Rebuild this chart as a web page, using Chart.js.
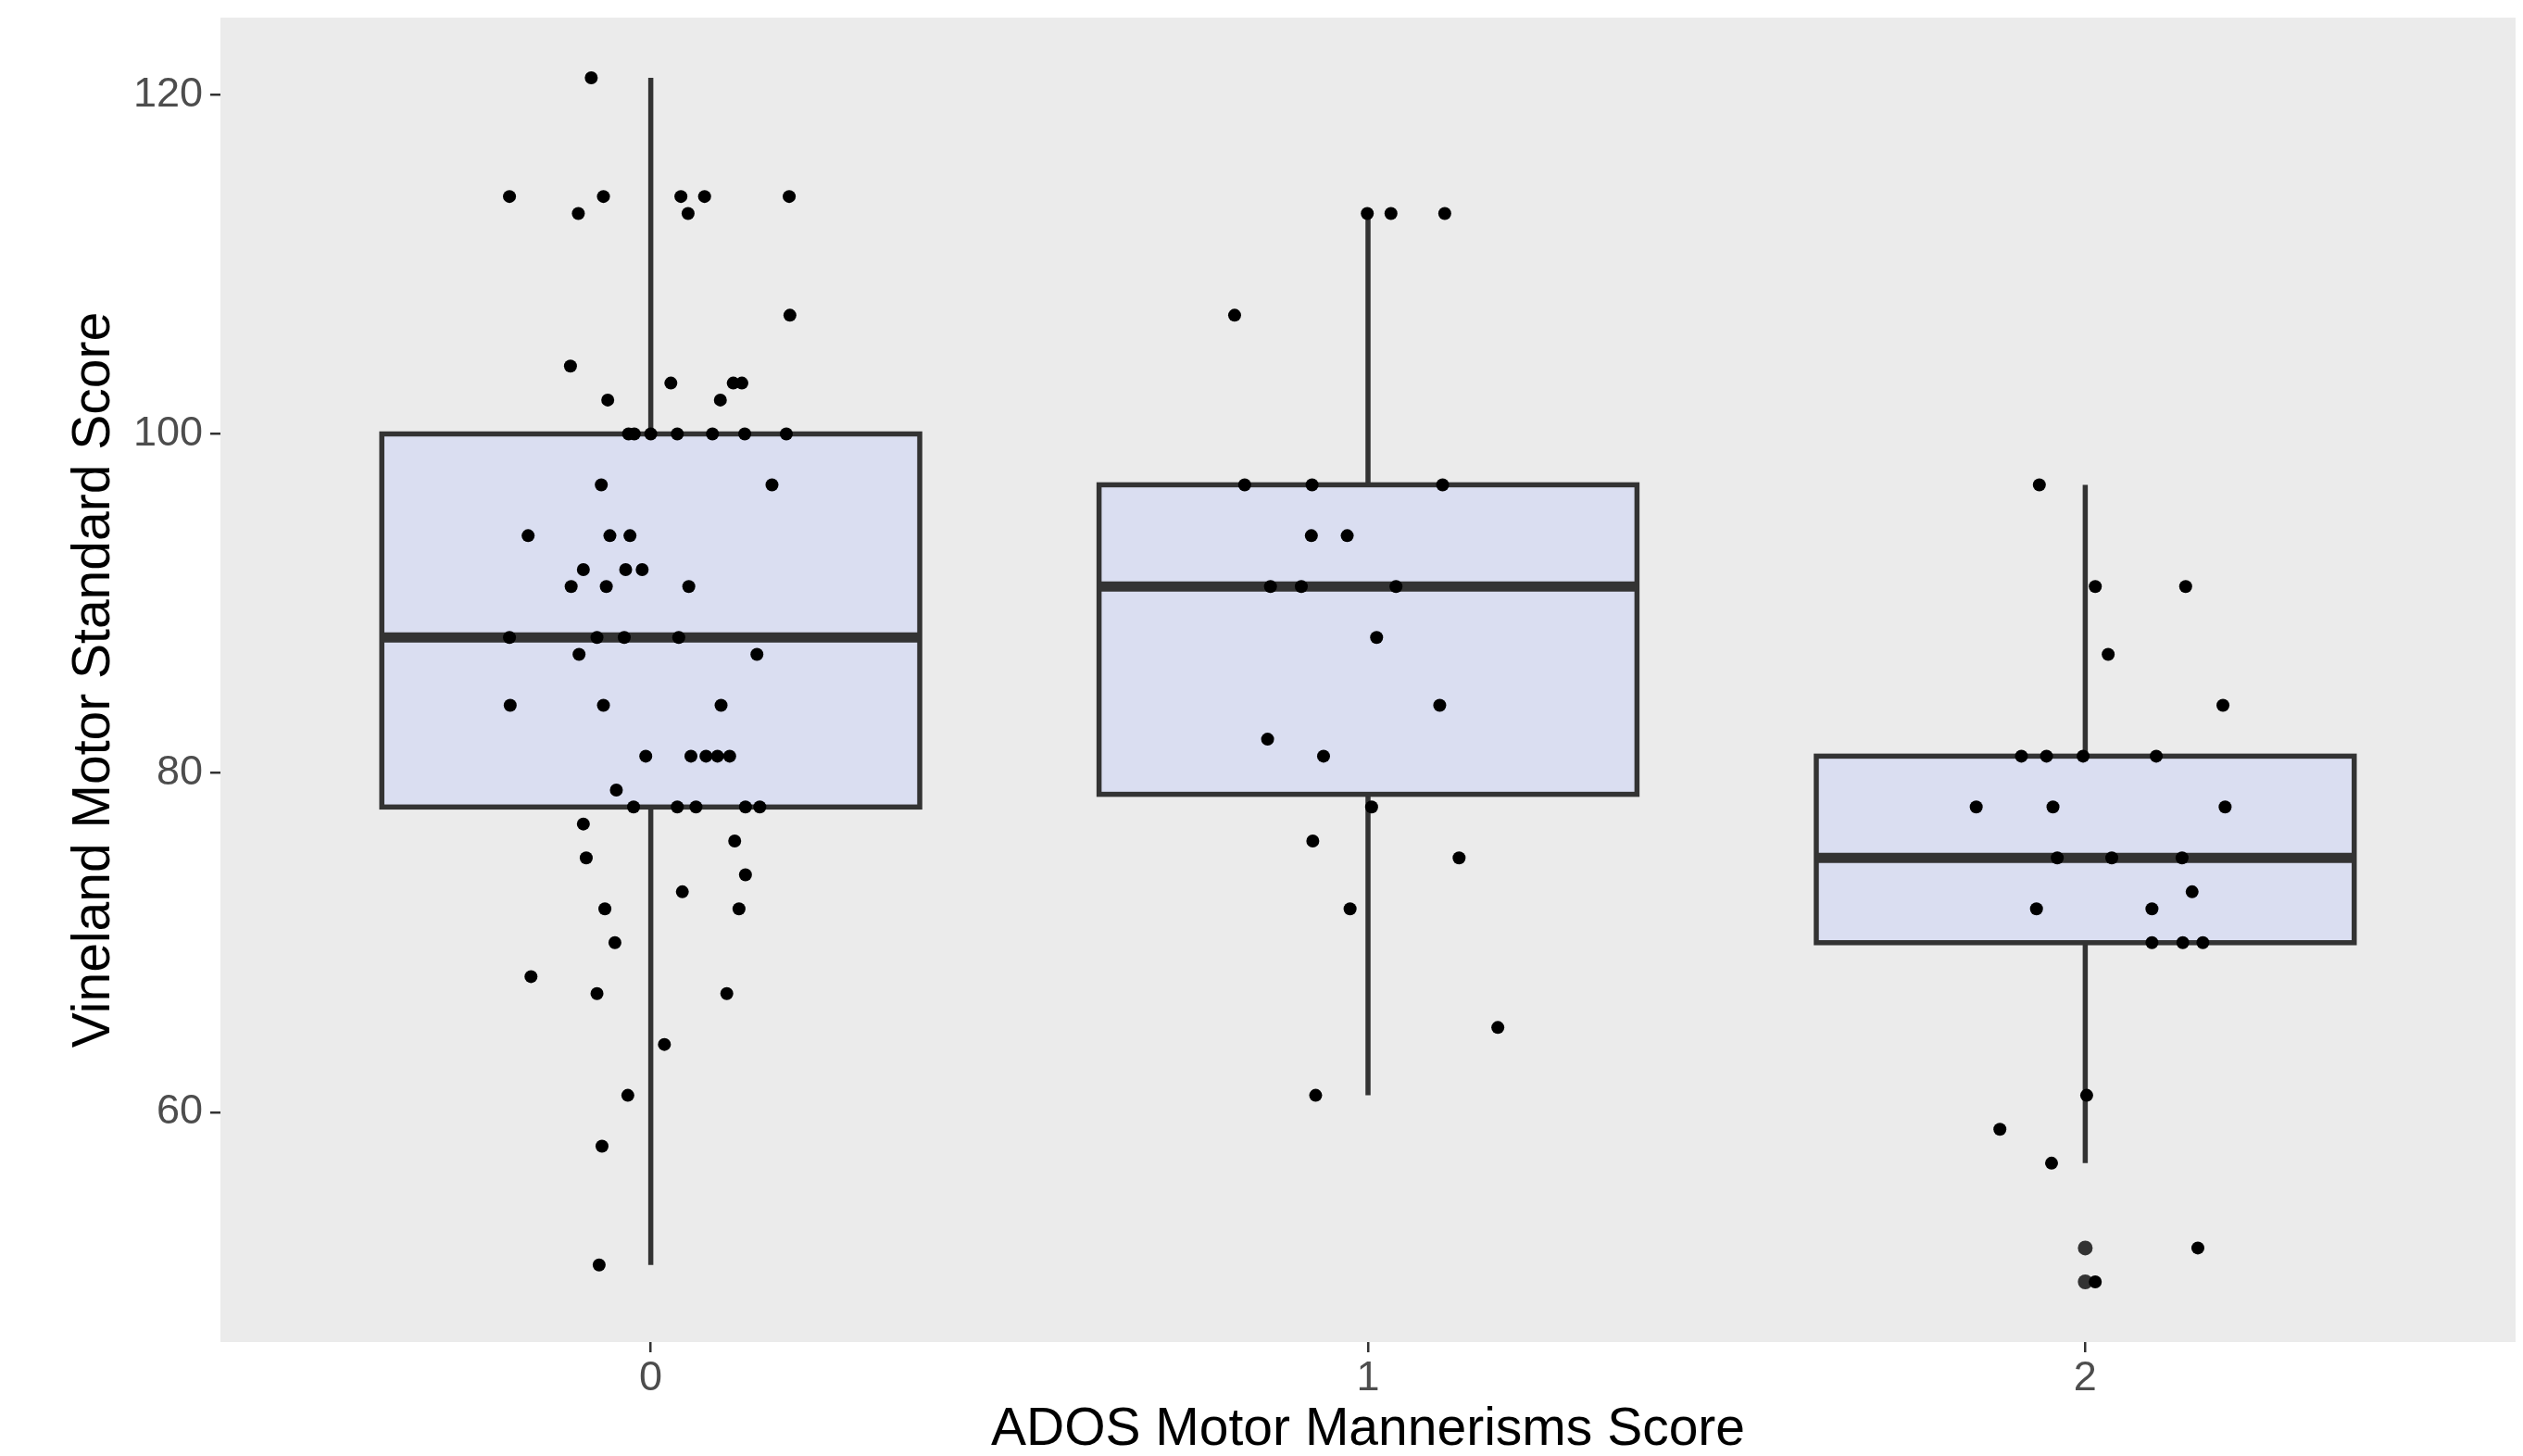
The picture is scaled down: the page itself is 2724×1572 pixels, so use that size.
<!DOCTYPE html>
<html>
<head>
<meta charset="utf-8">
<script src="https://cdn.jsdelivr.net/npm/chart.js@4.4.1/dist/chart.umd.min.js"></script>
<style>
  body { margin: 0; background: #ffffff; }
  canvas { display: block; }
</style>
</head>
<body>
<canvas id="chart" width="2724" height="1572"></canvas>
<script>
// x categories (ADOS score) and y tick labels
var categories = [0, 1, 2];
var yTicks = [60, 80, 100, 120];

// box stats per category
var boxMin    = [51, 61, 57];
var boxQ1     = [78, 78.75, 70];
var boxMedian = [88, 91, 75];
var boxQ3     = [100, 97, 81];
var boxMax    = [121, 113, 97];

// outliers (drawn at the category itself)
var outlierCat = [2, 2];
var outlierY   = [52, 50];

// jittered points, score 0
var score0 = [121, 114, 114, 113, 114, 114, 113, 114, 107, 104, 102, 103, 103, 103, 102,
  100, 100, 100, 100, 100, 100, 100, 97, 97, 94, 94, 94, 92, 92, 92, 91, 91, 91,
  88, 88, 88, 88, 87, 87, 84, 84, 84, 81, 81, 81, 81, 81, 79,
  78, 78, 78, 78, 78, 77, 76, 75, 74, 73, 72, 72, 70, 68, 67, 67, 64, 61, 58, 51];
var jitter0 = [-0.083, -0.197, -0.066, -0.101, 0.042, 0.075, 0.052, 0.193, 0.194, -0.112, -0.060, 0.028, 0.115, 0.127, 0.097,
  -0.031, -0.023, 0.0, 0.037, 0.086, 0.131, 0.189, -0.069, 0.169, -0.171, -0.057, -0.029, -0.094, -0.035, -0.012, -0.111, -0.062, 0.053,
  -0.197, -0.075, -0.037, 0.039, -0.100, 0.148, -0.196, -0.066, 0.098, -0.007, 0.056, 0.077, 0.093, 0.110, -0.048,
  -0.024, 0.037, 0.063, 0.132, 0.152, -0.094, 0.117, -0.090, 0.132, 0.044, -0.064, 0.123, -0.050, -0.167, -0.075, 0.106, 0.019, -0.032, -0.068, -0.072];

// jittered points, score 1
var score1 = [113, 113, 113, 107, 97, 97, 97, 94, 94, 91, 91, 91, 88, 84, 82, 81, 78, 76, 75, 72, 65, 61];
var jitter1 = [-0.001, 0.032, 0.107, -0.186, -0.172, -0.078, 0.104, -0.079, -0.029, -0.136, -0.093, 0.039,
  0.012, 0.100, -0.140, -0.062, 0.005, -0.077, 0.127, -0.025, 0.181, -0.073];

// jittered points, score 2
var score2 = [97, 91, 91, 87, 84, 81, 81, 81, 81, 78, 78, 78, 75, 75, 75, 73, 72, 72, 70, 70, 70, 61, 59, 57, 52, 50];
var jitter2 = [-0.064, 0.014, 0.140, 0.032, 0.192, -0.089, -0.054, -0.003, 0.099, -0.152, -0.045, 0.195,
  -0.039, 0.037, 0.135, 0.149, -0.068, 0.093, 0.093, 0.136, 0.164, 0.002, -0.119, -0.047, 0.157, 0.014];

var xTitle = 'ADOS Motor Mannerisms Score';
var yTitle = 'Vineland Motor Standard Score';

// build scatter data
var groups = [[score0, jitter0], [score1, jitter1], [score2, jitter2]];
var pointData = [];
for (let g = 0; g < groups.length; g++) {
  for (let i = 0; i < groups[g][0].length; i++) {
    pointData.push({ x: categories[g] + groups[g][1][i], y: groups[g][0][i] });
  }
}
var outlierData = [];
for (let i = 0; i < outlierY.length; i++) {
  outlierData.push({ x: outlierCat[i], y: outlierY[i] });
}

var boxHalf = 0.375;

// grey panel + boxplots under the points
var boxPlugin = {
  id: 'boxes',
  beforeDraw: function(chart) {
    var ctx = chart.ctx, a = chart.chartArea;
    ctx.save();
    ctx.fillStyle = '#ffffff';
    ctx.fillRect(0, 0, chart.width, chart.height);
    ctx.fillStyle = '#EBEBEB';
    ctx.fillRect(a.left, a.top, a.right - a.left, a.bottom - a.top);
    ctx.restore();
  },
  beforeDatasetsDraw: function(chart) {
    var ctx = chart.ctx;
    var xs = chart.scales.x, ys = chart.scales.y;
    ctx.save();
    for (let i = 0; i < categories.length; i++) {
      var xc = xs.getPixelForValue(categories[i]);
      var xl = xs.getPixelForValue(categories[i] - boxHalf);
      var xr = xs.getPixelForValue(categories[i] + boxHalf);
      var yMin = ys.getPixelForValue(boxMin[i]);
      var yQ1 = ys.getPixelForValue(boxQ1[i]);
      var yMed = ys.getPixelForValue(boxMedian[i]);
      var yQ3 = ys.getPixelForValue(boxQ3[i]);
      var yMax = ys.getPixelForValue(boxMax[i]);

      ctx.strokeStyle = '#333333';
      ctx.lineWidth = 5.5;
      ctx.lineCap = 'butt';
      ctx.beginPath();
      ctx.moveTo(xc, yQ3); ctx.lineTo(xc, yMax);
      ctx.moveTo(xc, yQ1); ctx.lineTo(xc, yMin);
      ctx.stroke();

      ctx.fillStyle = '#DADEF1';
      ctx.fillRect(xl, yQ3, xr - xl, yQ1 - yQ3);
      ctx.strokeRect(xl, yQ3, xr - xl, yQ1 - yQ3);

      ctx.lineWidth = 11;
      ctx.beginPath();
      ctx.moveTo(xl, yMed); ctx.lineTo(xr, yMed);
      ctx.stroke();
    }
    ctx.restore();
  }
};

var fontFamily = '"Liberation Sans", Arial, Helvetica, sans-serif';

new Chart(document.getElementById('chart'), {
  type: 'scatter',
  data: {
    datasets: [
      {
        label: 'points',
        data: pointData,
        backgroundColor: '#000000',
        borderWidth: 0,
        pointRadius: 7,
        order: 0
      },
      {
        label: 'outliers',
        data: outlierData,
        backgroundColor: '#333333',
        borderWidth: 0,
        pointRadius: 8,
        order: 1
      }
    ]
  },
  options: {
    responsive: false,
    animation: false,
    layout: { padding: { top: 19, right: 5, left: 0, bottom: 0 } },
    plugins: { legend: { display: false }, tooltip: { enabled: false } },
    scales: {
      x: {
        type: 'linear',
        min: categories[0] - 0.6,
        max: categories[categories.length - 1] + 0.6,
        afterBuildTicks: function(scale) {
          scale.ticks = categories.map(function(v) { return { value: v }; });
        },
        afterFit: function(scale) {
          scale.height = 123;
          scale.paddingLeft = 0;
          scale.paddingRight = 0;
        },
        border: { display: false },
        grid: { drawOnChartArea: false, drawTicks: true, tickLength: 11, color: '#333333', lineWidth: 2.5 },
        ticks: {
          color: '#4D4D4D',
          padding: 2,
          font: { family: fontFamily, size: 45 },
          callback: function(v) { return String(v); }
        },
        title: {
          display: true,
          text: xTitle,
          color: '#000000',
          padding: { top: 0, bottom: -6 },
          font: { family: fontFamily, size: 57 }
        }
      },
      y: {
        min: 46.45,
        max: 124.55,
        afterBuildTicks: function(scale) {
          scale.ticks = yTicks.map(function(v) { return { value: v }; });
        },
        afterFit: function(scale) {
          scale.width = 238;
          scale.paddingTop = 0;
          scale.paddingBottom = 0;
        },
        border: { display: false },
        grid: { drawOnChartArea: false, drawTicks: true, tickLength: 11, color: '#333333', lineWidth: 2.5 },
        ticks: {
          color: '#4D4D4D',
          padding: 8,
          font: { family: fontFamily, size: 45 },
          callback: function(v) { return String(v); }
        },
        title: {
          display: true,
          text: yTitle,
          color: '#000000',
          padding: { top: 68, bottom: 0 },
          font: { family: fontFamily, size: 57 }
        }
      }
    }
  },
  plugins: [boxPlugin]
});
</script>
</body>
</html>
